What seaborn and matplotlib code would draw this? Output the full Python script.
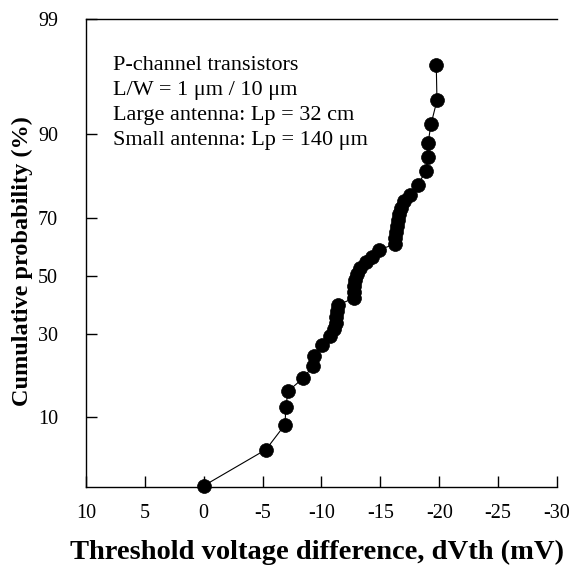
import numpy as np
import matplotlib
matplotlib.use("Agg")
import matplotlib.pyplot as plt
import seaborn as sns
from statistics import NormalDist

# Threshold voltage shift (mV) and cumulative probability (%)
dvth = [0.0, -5.29, -6.90, -6.98, -7.15, -8.43, -9.28, -9.36, -10.04, -10.72,
        -11.06, -11.23, -11.23, -11.32, -11.40, -12.76, -12.76, -12.76, -12.85, -13.02,
        -13.27, -13.78, -14.29, -14.88, -16.25, -16.25, -16.33, -16.41, -16.50, -16.58,
        -16.75, -17.00, -17.52, -18.20, -18.88, -19.05, -19.05, -19.30, -19.81, -19.75]
cum_prob = [2.87, 5.8, 8.9, 11.7, 14.8, 17.7, 20.7, 23.4, 26.5, 29.3,
            31.5, 33.5, 35.5, 37.5, 39.6, 42.1, 44.2, 46.4, 48.6, 50.7,
            52.9, 55.1, 56.9, 59.3, 61.4, 63.5, 65.5, 67.5, 69.5, 71.4,
            73.2, 75.0, 76.9, 79.6, 83.0, 86.0, 88.5, 91.5, 94.4, 97.2]

x_ticks = [10, 5, 0, -5, -10, -15, -20, -25, -30]
x_tick_labels = ["10", "5", "0", "-5", "-10", "-15", "-20", "-25", "-30"]
y_ticks = [10, 30, 50, 70, 90, 99]
y_tick_labels = ["10", "30", "50", "70", "90", "99"]

note = ("P-channel transistors\n"
        "L/W = 1 \u03bcm / 10 \u03bcm\n"
        "Large antenna: Lp = 32 cm\n"
        "Small antenna: Lp = 140 \u03bcm")

sns.set_theme(style="ticks")
plt.rcParams["font.family"] = ["Liberation Serif", "DejaVu Serif"]

_nd = NormalDist()
_ppf = np.vectorize(_nd.inv_cdf, otypes=[float])
_cdf = np.vectorize(_nd.cdf, otypes=[float])


def prob_fwd(p):
    p = np.clip(np.asarray(p, dtype=float) / 100.0, 1e-9, 1 - 1e-9)
    return _ppf(p)


def prob_inv(z):
    return _cdf(np.asarray(z, dtype=float)) * 100.0


fig = plt.figure(figsize=(5.73, 5.70), dpi=100)
ax = fig.add_axes([0.150, 0.1456, 0.822, 0.821])
ax.set_yscale("function", functions=(prob_fwd, prob_inv))

sns.lineplot(x=dvth, y=cum_prob, sort=False, estimator=None, ax=ax,
             color="black", linewidth=0.8, marker="o", markersize=10,
             markeredgecolor="black", markeredgewidth=0.5, clip_on=False)

ax.set_xlim(10, -30)
ax.set_ylim(2.8, 99)
ax.set_xticks(x_ticks, x_tick_labels)
ax.set_yticks(y_ticks, y_tick_labels)
ax.minorticks_off()
ax.tick_params(axis="both", direction="in", length=8, width=1, labelsize=14.5,
               color="black", labelcolor="black")
ax.tick_params(axis="x", pad=12)
ax.tick_params(axis="y", pad=20)

for side in ["left", "bottom", "top"]:
    ax.spines[side].set_color("black")
    ax.spines[side].set_linewidth(1)
ax.spines["right"].set_visible(False)

ax.set_xlabel("Threshold voltage difference, dVth (mV)", fontsize=20.5,
              fontweight="bold", color="black")
ax.set_ylabel("Cumulative probability (%)", fontsize=17.5,
              fontweight="bold", color="black")
ax.xaxis.set_label_coords(0.49, -0.112)
ax.yaxis.set_label_coords(-0.112, 0.483)

ax.text(0.057, 0.921, note, transform=ax.transAxes, fontsize=16,
        va="top", ha="left", linespacing=1.42, color="black")

fig.savefig("out.png", dpi=100)
